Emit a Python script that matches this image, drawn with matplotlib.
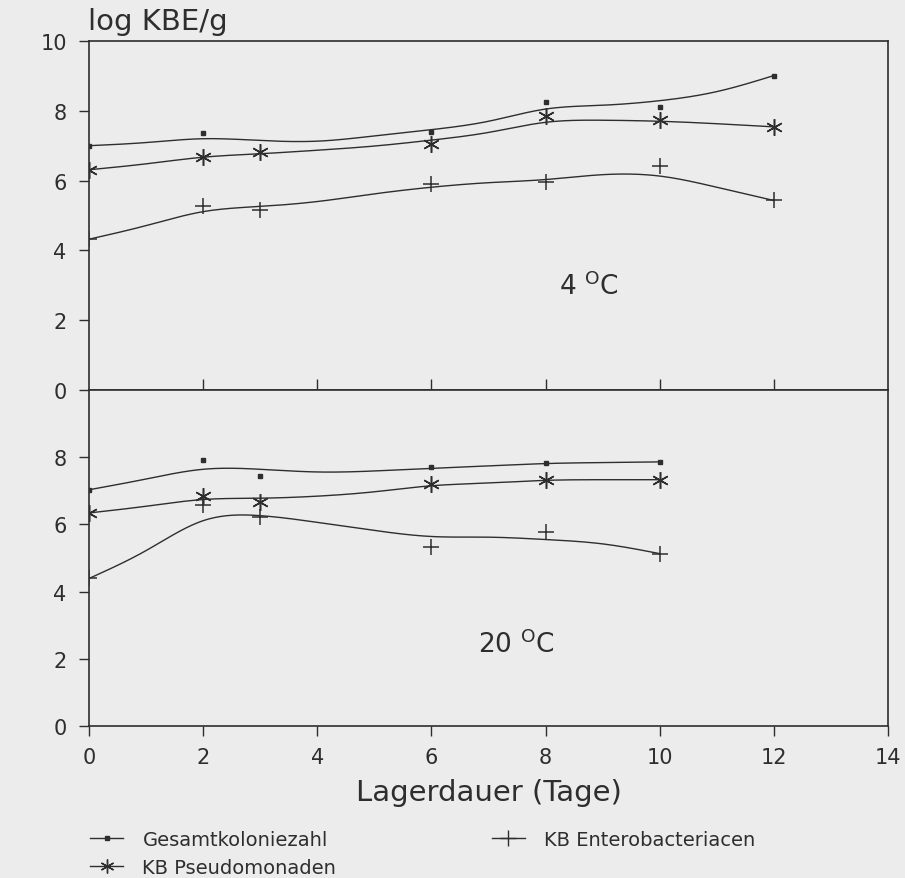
import numpy as np
import matplotlib
matplotlib.use("Agg")
import matplotlib.pyplot as plt
from matplotlib.lines import Line2D

plt.rcParams['font.family'] = ['DejaVu Sans']
plt.rcParams['mathtext.fontset'] = 'dejavusans'

# ---------------- data ----------------
# 4 °C panel
g4_days = [0, 2, 6, 8, 10, 12]
g4_vals = [7.00, 7.37, 7.40, 8.26, 8.12, 9.01]
p4_days = [0, 2, 3, 6, 8, 10, 12]
p4_vals = [6.31, 6.68, 6.82, 7.06, 7.86, 7.73, 7.54]
e4_days = [0, 2, 3, 6, 8, 10, 12]
e4_vals = [4.32, 5.28, 5.17, 5.91, 5.97, 6.42, 5.43]

# smoothed curves (at each day)
c4_days = [0, 1, 2, 3, 4, 5, 6, 7, 8, 9, 10, 11, 12]
g4_curve = [7.00, 7.09, 7.20, 7.15, 7.13, 7.28, 7.46, 7.70, 8.05, 8.16, 8.29, 8.55, 9.01]
p4_curve = [6.31, 6.48, 6.67, 6.77, 6.87, 6.99, 7.16, 7.38, 7.67, 7.73, 7.70, 7.63, 7.54]
e4_curve = [4.32, 4.71, 5.11, 5.26, 5.40, 5.62, 5.81, 5.94, 6.03, 6.17, 6.13, 5.81, 5.43]

# 20 °C panel
g20_days = [0, 2, 3, 6, 8, 10]
g20_vals = [7.03, 7.91, 7.45, 7.71, 7.84, 7.86]
p20_days = [0, 2, 3, 6, 8, 10]
p20_vals = [6.34, 6.85, 6.66, 7.20, 7.33, 7.33]
e20_days = [0, 2, 3, 6, 8, 10]
e20_vals = [4.39, 6.58, 6.23, 5.34, 5.77, 5.13]

c20_days = [0, 1, 2, 3, 4, 5, 6, 7, 8, 9, 10]
g20_curve = [7.03, 7.35, 7.64, 7.64, 7.56, 7.59, 7.67, 7.74, 7.81, 7.84, 7.86]
p20_curve = [6.34, 6.54, 6.74, 6.78, 6.84, 6.97, 7.15, 7.23, 7.31, 7.33, 7.33]
e20_curve = [4.39, 5.22, 6.11, 6.26, 6.06, 5.82, 5.64, 5.62, 5.55, 5.42, 5.13]

labels = ["Gesamtkoloniezahl", "KB Pseudomonaden", "KB Enterobacteriacen"]
y_ticks_top = [0, 2, 4, 6, 8, 10]
y_ticks_bottom = [0, 2, 4, 6, 8]
x_ticks = [0, 2, 4, 6, 8, 10, 12, 14]


def natural_spline(x, y, n=300):
    x = np.asarray(x, float)
    y = np.asarray(y, float)
    m = len(x)
    h = np.diff(x)
    A = np.zeros((m, m))
    b = np.zeros(m)
    A[0, 0] = 1
    A[-1, -1] = 1
    for i in range(1, m - 1):
        A[i, i - 1] = h[i - 1]
        A[i, i] = 2 * (h[i - 1] + h[i])
        A[i, i + 1] = h[i]
        b[i] = 3 * ((y[i + 1] - y[i]) / h[i] - (y[i] - y[i - 1]) / h[i - 1])
    c = np.linalg.solve(A, b)
    xs = np.linspace(x[0], x[-1], n)
    idx = np.clip(np.searchsorted(x, xs, side='right') - 1, 0, m - 2)
    dx = xs - x[idx]
    bb = (y[idx + 1] - y[idx]) / h[idx] - h[idx] * (2 * c[idx] + c[idx + 1]) / 3
    dd = (c[idx + 1] - c[idx]) / (3 * h[idx])
    ys = y[idx] + bb * dx + c[idx] * dx ** 2 + dd * dx ** 3
    return xs, ys


BG = '#ececec'
INK = '#2e2e2e'
star = (6, 2, 0)

fig = plt.figure(figsize=(9.05, 8.79), dpi=100, facecolor=BG)
ax1 = fig.add_axes([0.0983, 0.5552, 0.8829, 0.3970])
ax2 = fig.add_axes([0.0983, 0.1729, 0.8829, 0.3823])

for ax in (ax1, ax2):
    ax.set_facecolor(BG)
    ax.set_xlim(0, 14)
    ax.set_ylim(0, 10)
    for s in ax.spines.values():
        s.set_color(INK)
        s.set_linewidth(1.2)

lw = 1.0
# top panel
for cx, cy in ((c4_days, g4_curve), (c4_days, p4_curve), (c4_days, e4_curve)):
    xs, ys = natural_spline(cx, cy)
    ax1.plot(xs, ys, color=INK, lw=lw)
ax1.plot(g4_days, g4_vals, ls='none', marker='s', ms=2.6, color=INK)
ax1.plot(p4_days, p4_vals, ls='none', marker=star, ms=12, mew=1.1, color=INK)
ax1.plot(e4_days, e4_vals, ls='none', marker='+', ms=12, mew=1.1, color=INK)

# bottom panel
for cx, cy in ((c20_days, g20_curve), (c20_days, p20_curve), (c20_days, e20_curve)):
    xs, ys = natural_spline(cx, cy)
    ax2.plot(xs, ys, color=INK, lw=lw)
ax2.plot(g20_days, g20_vals, ls='none', marker='s', ms=2.6, color=INK)
ax2.plot(p20_days, p20_vals, ls='none', marker=star, ms=12, mew=1.1, color=INK)
ax2.plot(e20_days, e20_vals, ls='none', marker='+', ms=12, mew=1.1, color=INK)

# ticks
ax1.set_yticks(y_ticks_top)
ax1.set_xticks(x_ticks[1:-1])
ax1.tick_params(axis='x', direction='in', length=8, width=1, color=INK, labelbottom=False)
ax1.tick_params(axis='y', direction='out', length=7, width=1, color=INK,
                labelsize=15, labelcolor=INK, pad=9)
ax2.set_yticks(y_ticks_bottom)
ax2.set_xticks(x_ticks)
ax2.tick_params(axis='x', direction='out', length=7, width=1, color=INK,
                labelsize=15, labelcolor=INK, pad=8)
ax2.tick_params(axis='y', direction='out', length=7, width=1, color=INK,
                labelsize=15, labelcolor=INK, pad=9)

ax2.set_xlabel('Lagerdauer (Tage)', fontsize=21, color=INK, labelpad=8)

fig.text(88 / 905, 1 - 22 / 879, 'log KBE/g', fontsize=21, color=INK,
         ha='left', va='center')

ax1.text(8.76, 3.0, r'4 $^{\mathrm{O}}$C', fontsize=19, color=INK, ha='center', va='center')
ax2.text(7.49, 2.46, r'20 $^{\mathrm{O}}$C', fontsize=19, color=INK, ha='center', va='center')

handles = [
    Line2D([], [], color=INK, lw=1, marker='s', ms=2.5),
    Line2D([], [], color=INK, lw=1, marker=star, ms=10, mew=1),
    Line2D([], [], color=INK, lw=1, marker='+', ms=11, mew=1),
]
leg = fig.legend(handles, labels, loc='upper left', bbox_to_anchor=(90 / 905, 1 - 831 / 879),
                 ncol=2, frameon=False, fontsize=14, handlelength=1.7, handletextpad=1.0,
                 columnspacing=8.0, borderpad=0, borderaxespad=0, labelspacing=0.45)
for t in leg.get_texts():
    t.set_color(INK)

fig.savefig('out.png', dpi=100, facecolor=BG)
